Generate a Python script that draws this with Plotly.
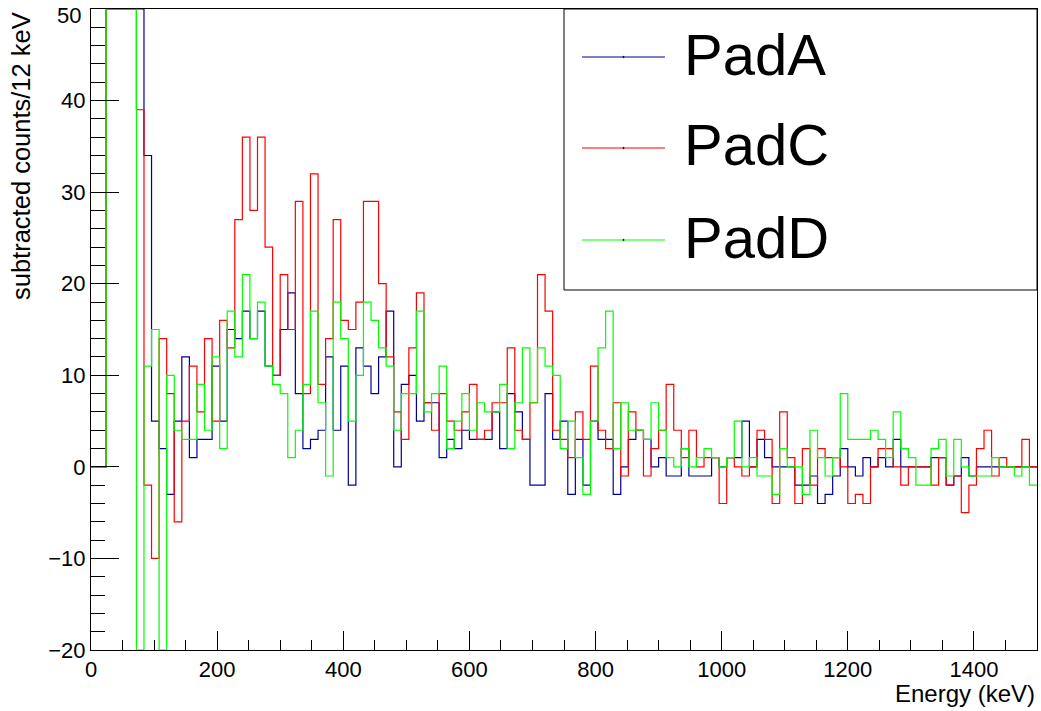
import numpy as np
import plotly.graph_objects as go

# ---- data (12 keV bins, 0-1500 keV) ----
bin_width = 12
n_bins = 125
series_names = ["PadA", "PadC", "PadD"]
series_colors = ["#000099", "#ff0000", "#00ff00"]

padA = [
    0, 0, 95, 160, 140, 110, 70, 34, 5, 2,
    -3, 5, 12, 1, 3, 3, 11, 5, 15, 14,
    17, 14, 17, 11, 10, 15, 19, 8, 2, 3,
    4, 12, 4, 11, -2, 13, 11, 8, 12, 17,
    0, 9, 10, 5, 7, 7, 1, 3, 2, 4,
    3, 3, 3, 6, 2, 8, 6, 3, -2, -2,
    8, 3, 5, -3, 3, -2, 5, 3, 3, -3,
    0, 3, 4, 3, 0, 1, -1, -1, 2, -1,
    -1, -1, 1, 0, 1, 1, 5, 0, 3, 1,
    0, 0, 0, -2, -2, -1, -4, -3, -1, 2,
    0, -1, 1, 0, 1, 0, 3, 0, 0, 0,
    0, 1, 1, -2, -1, 1, -1, 0, 0, 0,
    0, 0, 0, 0, 0]

padC = [
    0, 0, 90, 150, 130, 100, 39, -2, -10, 14,
    8, -6, 5, 11, 6, 14, 5, 16, 13, 27,
    36, 28, 36, 24, 10, 21, 15, 29, 8, 32,
    9, 14, 27, 16, 15, 18, 29, 29, 20, 12,
    6, 3, 13, 19, 7, 4, 8, 5, 4, 6,
    9, 3, 4, 7, 7, 13, 4, 3, 7, 21,
    17, 4, 3, 1, 6, 3, 11, 4, 2, 7,
    -1, 6, 4, -1, 2, 4, 9, 4, 1, 4,
    0, 1, 1, -4, 1, 0, -1, 0, 4, 3,
    -4, 6, 1, -4, 2, -2, 2, 1, 1, 0,
    -4, -3, -4, 0, 2, 2, 0, -2, 0, 0,
    0, -2, 1, -2, -1, -5, -2, 2, 4, -1,
    1, 0, 0, 3, 0]

padD = [
    0, 0, 85, 140, 120, 90, -35, 11, 15, -30,
    10, 4, 3, 3, 9, 4, 12, 2, 17, 12,
    21, 14, 18, 11, 9, 8, 1, 4, 9, 17,
    7, -1, 18, 14, 5, 10, 18, 16, 13, 11,
    4, 8, 8, 17, 6, 8, 11, 2, 5, 8,
    4, 7, 6, 6, 9, 2, 7, 13, 7, 13,
    11, 10, 2, 5, 1, -3, 5, 13, 17, 2,
    7, 4, 4, 3, 7, 4, 1, 0, 2, 0,
    1, 2, 1, 0, 1, 5, 0, 1, -1, -1,
    -3, 2, 0, 0, -3, 4, 1, -1, 1, 8,
    3, 3, 3, 4, 3, 1, 6, 2, 1, -2,
    -2, 2, 3, -1, 3, 0, -1, -1, -1, 1,
    0, 0, -1, 0, -2]

x_range = [0, 1500]
y_range = [-20, 50]
y_tick_values = [-20, -10, 0, 10, 20, 30, 40]
y_top_label = "50"
x_title = "Energy (keV)"
y_title = "subtracted counts/12 keV"

edges = np.arange(n_bins + 1) * bin_width

FONT = "Liberation Sans, Arial, Helvetica, sans-serif"

fig = go.Figure()
for name, vals, color in zip(series_names, [padA, padC, padD], series_colors):
    v = np.clip(np.array(vals, dtype=float), y_range[0], y_range[1])
    y = list(v) + [v[-1]]
    fig.add_trace(go.Scatter(
        x=edges, y=y, mode="lines", name=name,
        line=dict(color=color, width=1.2, shape="hv"),
        showlegend=False, hoverinfo="skip"))

axis_common = dict(
    showline=True, linecolor="black", linewidth=1, mirror=True,
    ticks="inside", tickcolor="black", tickwidth=1,
    showgrid=False, zeroline=False, automargin=False,
    tickfont=dict(family=FONT, size=22, color="black"),
)

fig.update_xaxes(range=x_range, tick0=0, dtick=200, ticklen=19,
                 minor=dict(dtick=50, ticklen=10, ticks="inside", tickcolor="black", showgrid=False),
                 **axis_common)
fig.update_yaxes(range=y_range, tickmode="array", tickvals=y_tick_values + [50],
                 ticktext=[str(v).replace("-", "\u2212") for v in y_tick_values] + [""],
                 ticklen=28, ticklabeloverflow="allow",
                 minor=dict(dtick=2, tick0=0, ticklen=14, ticks="inside", tickcolor="black", showgrid=False),
                 **axis_common)

L, R, T, B = 91, 4, 9, 61
W, H = 1041, 711
pw, ph = W - L - R, H - T - B

def px_to_paper_x(px):
    return (px - L) / pw

def px_to_paper_y(py):
    return (H - B - py) / ph

shapes = []
annotations = []

# legend box
shapes.append(dict(type="rect", xref="paper", yref="paper",
                   x0=px_to_paper_x(564), x1=1.0,
                   y0=px_to_paper_y(290), y1=1.0,
                   line=dict(color="black", width=1), fillcolor="white", layer="above"))
legend_rows = [57, 148, 240]
for name, color, ry in zip(series_names, series_colors, legend_rows):
    shapes.append(dict(type="line", xref="paper", yref="paper",
                       x0=px_to_paper_x(582), x1=px_to_paper_x(665),
                       y0=px_to_paper_y(ry), y1=px_to_paper_y(ry),
                       line=dict(color=color, width=1.2), layer="above"))
    annotations.append(dict(text=name, xref="paper", yref="paper",
                            x=px_to_paper_x(682), y=px_to_paper_y(ry - 3),
                            xanchor="left", yanchor="middle", showarrow=False,
                            font=dict(family=FONT, size=58, color="black")))
for ry in legend_rows:
    shapes.append(dict(type="circle", xref="paper", yref="paper",
                       x0=px_to_paper_x(622.8), x1=px_to_paper_x(624.2),
                       y0=px_to_paper_y(ry + 0.7), y1=px_to_paper_y(ry - 0.7),
                       line=dict(color="black", width=0.6), fillcolor="black", layer="above"))

# top y tick label, shifted down inside the page as in the reference
annotations.append(dict(text=y_top_label, xref="paper", yref="paper",
                        x=px_to_paper_x(83), y=px_to_paper_y(15), xanchor="right", yanchor="middle",
                        showarrow=False, font=dict(family=FONT, size=22, color="black")))

annotations.append(dict(text=x_title, xref="paper", yref="paper",
                        x=1.0, y=px_to_paper_y(693), xanchor="right", yanchor="middle",
                        showarrow=False, font=dict(family=FONT, size=24, color="black")))
annotations.append(dict(text=y_title, xref="paper", yref="paper",
                        x=px_to_paper_x(21), y=px_to_paper_y(10), xanchor="center", yanchor="top",
                        textangle=-90, showarrow=False,
                        font=dict(family=FONT, size=25.5, color="black")))

fig.update_layout(
    width=W, height=H,
    margin=dict(l=L, r=R, t=T, b=B, pad=0, autoexpand=False),
    plot_bgcolor="white", paper_bgcolor="white",
    shapes=shapes, annotations=annotations,
    showlegend=False,
)

fig.write_html("out.html")
